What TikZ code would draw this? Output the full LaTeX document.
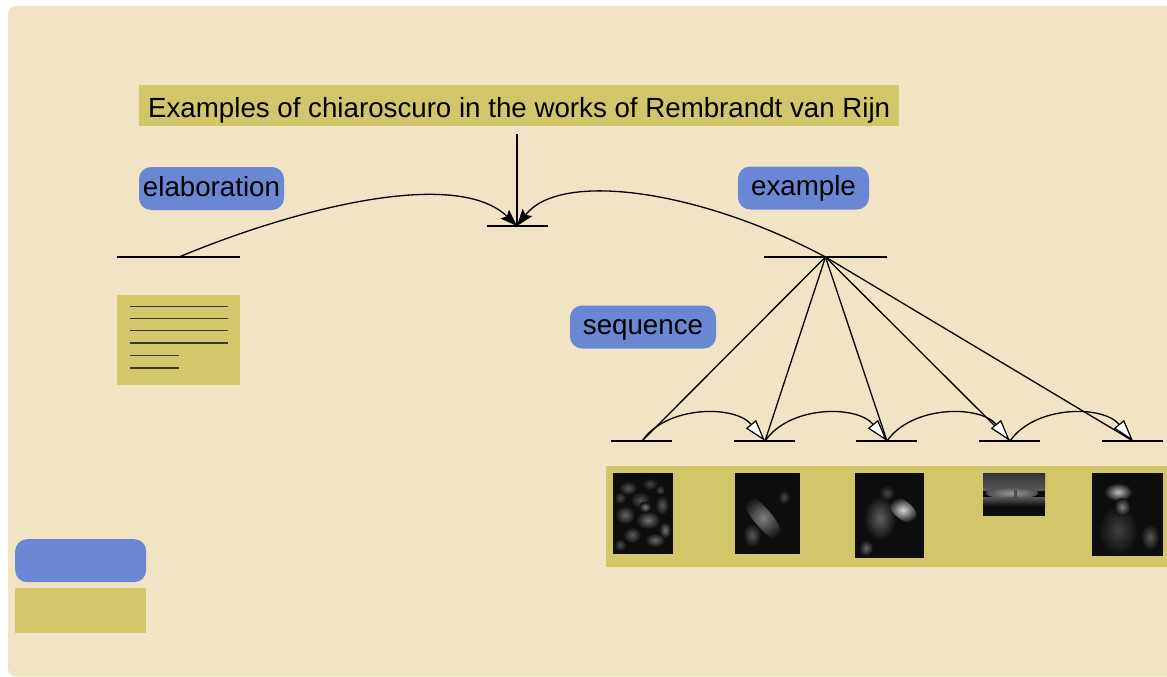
\documentclass[tikz,border=0pt]{standalone}
\usepackage{fontspec}
\setmainfont{Liberation Sans}
\usetikzlibrary{arrows.meta,calc}
\definecolor{bgbeige}{HTML}{F1E4C5}
\definecolor{olivebox}{HTML}{D1C76A}
\definecolor{relblue}{HTML}{6A87D3}
\definecolor{txtline}{HTML}{3A3826}
\newcommand{\labfont}{\fontsize{27.7}{33}\selectfont}
\tikzset{
  titlebox/.style={fill=olivebox, inner xsep=8pt, inner ysep=0pt, minimum height=41pt, minimum width=760pt, align=left, text height=23.6pt, text depth=0pt, font=\labfont},
  relbox/.style={fill=relblue, rounded corners=12pt, inner sep=0pt, minimum height=43pt, text height=20pt, text depth=5pt, font=\labfont},
  olivepanel/.style={fill=olivebox, inner sep=0pt},
  barline/.style={line width=1.4pt},
  conn/.style={line width=1.3pt},
  mainarrow/.style={-{Stealth[length=17pt,width=12pt,inset=3pt]}},
  seqarrow/.style={-{Triangle[open,length=22pt,width=13pt,fill=white,line width=1.2pt]}},
  textline/.style={line width=1.6pt, txtline},
  painting/.style={fill=black!95, inner sep=0pt, anchor=north west},
}
\begin{document}
\begin{tikzpicture}[x=1pt,y=-1pt]
\useasboundingbox (0,0) rectangle (1167,677);
\clip (0,0) rectangle (1167,677);
\fill[white] (0,0) rectangle (1167,677);
\fill[bgbeige, rounded corners=8pt] (8,6) rectangle (1190,676.5);

% title
\node[titlebox, anchor=west] (title) at (139,105.5) {Examples of chiaroscuro in the works of Rembrandt van Rijn\hfill};

% relation labels
\node[relbox, minimum width=145pt] (elab) at (211.5,188.5) {elaboration};
\node[relbox, minimum width=131pt] (exa) at (803.5,188) {example};
\node[relbox, minimum width=146pt] (seq) at (643,327) {sequence};

% anchor points of the bars
\coordinate (titlefoot) at (517,134);
\coordinate (top) at (517,226);
\coordinate (L) at (179,257);
\coordinate (R) at (825.5,257);
\coordinate (s1) at (642,441);
\coordinate (s2) at (765,441);
\coordinate (s3) at (887,441);
\coordinate (s4) at (1010,441);
\coordinate (s5) at (1133,441);

% bars
\draw[barline] ($(top)+(-30,0)$) -- ($(top)+(31,0)$);
\draw[barline] ($(L)+(-62,0)$) -- ($(L)+(61,0)$);
\draw[barline] ($(R)+(-61.5,0)$) -- ($(R)+(61.5,0)$);
\foreach \s in {s1,s2,s3,s4,s5}{
  \draw[barline] ($(\s)+(-31,0)$) -- ($(\s)+(30,0)$);
}

% connectors
\draw[conn] (titlefoot) -- (top);
\draw[conn, mainarrow] (L) .. controls +(120,-50) and +(-60,-58) .. (top);
\draw[conn, mainarrow] (R) .. controls +(-125.5,-67) and +(43,-56) .. (top);
\foreach \s in {s1,s2,s3,s4,s5}{
  \draw[conn] (R) -- (\s);
}
\draw[conn, seqarrow] (s1) .. controls +(25,-36) and +(-30,-36) .. (s2);
\draw[conn, seqarrow] (s2) .. controls +(25,-36) and +(-30,-36) .. (s3);
\draw[conn, seqarrow] (s3) .. controls +(25,-36) and +(-30,-36) .. (s4);
\draw[conn, seqarrow] (s4) .. controls +(25,-36) and +(-30,-36) .. (s5);

% text panel (left)
\node[olivepanel, anchor=north west, minimum width=123pt, minimum height=89.5pt] (txt) at (117,295) {};
\foreach \dy in {11.5,23.5,35.5,48}{
  \draw[textline] ($(txt.north west)+(13,\dy)$) -- +(98,0);
}
\foreach \dy in {60.5,73}{
  \draw[textline] ($(txt.north west)+(13,\dy)$) -- +(49,0);
}

% gallery panel
\node[olivepanel, anchor=north west, minimum width=620pt, minimum height=101pt] (gallery) at (606,466) {};

% painting 1
\node[painting, minimum width=60pt, minimum height=81pt] (p1) at (613,473) {};
\begin{scope}
\clip (613,473) rectangle (673,554);
\foreach \x/\y/\a/\b/\g in {628/488/9/7/35, 650/484/8/6/28, 640/500/10/8/32, 625/515/10/9/40, 648/520/12/9/45, 662/505/7/10/35, 632/535/9/8/38, 655/540/10/7/42, 665/530/6/8/45, 620/545/6/6/32, 645/507/6/5/50, 620/498/6/6/30, 660/490/5/5/30}{
  \shade[inner color=white!\g!black, outer color=black!95] (\x,\y) ellipse ({\a} and {\b});
}
\end{scope}

% painting 2
\node[painting, minimum width=65pt, minimum height=81pt] (p2) at (735,473) {};
\begin{scope}
\clip (735,473) rectangle (800,554);
\shade[inner color=white!50!black, outer color=black!95, rotate around={-50:(763,518)}] (763,518) ellipse (30 and 9);
\shade[inner color=white!35!black, outer color=black!95] (752,535) ellipse (9 and 12);
\shade[inner color=white!30!black, outer color=black!95] (784,497) ellipse (6 and 7);
\end{scope}

% painting 3
\node[painting, minimum width=69pt, minimum height=85pt] (p3) at (855,473) {};
\begin{scope}
\clip (855,473) rectangle (924,558);
\shade[inner color=white!38!black, outer color=black!95] (880,518) ellipse (16 and 22);
\shade[inner color=white!28!black, outer color=black!95] (887,493) ellipse (8 and 8);
\shade[inner color=white!85!black, outer color=black!95, rotate around={-40:(903,510)}] (903,510) ellipse (17 and 9);
\shade[inner color=white!40!black, outer color=black!95] (866,548) ellipse (7 and 8);
\end{scope}

% painting 4
\node[painting, minimum width=62pt, minimum height=43pt] (p4) at (983,473) {};
\begin{scope}
\clip (983,473) rectangle (1045,516);
\shade[top color=black!80, bottom color=white!35!black] (983,473) rectangle (1045,490);
\shade[inner color=white!60!black, outer color=white!30!black] (1012,493) ellipse (26 and 6);
\shade[top color=white!35!black, bottom color=black!95] (983,497) rectangle (1045,506);
\fill[black!95] (983,506) rectangle (1045,516);
\fill[white!30!black] (1014,490) rectangle (1017,500);
\end{scope}

% painting 5
\node[painting, minimum width=71pt, minimum height=83pt] (p5) at (1092,473) {};
\begin{scope}
\clip (1092,473) rectangle (1163,556);
\shade[inner color=white!25!black, outer color=black!95] (1118,530) ellipse (20 and 25);
\shade[inner color=white!75!black, outer color=black!95] (1118,492) ellipse (14 and 9);
\shade[inner color=white!50!black, outer color=black!95] (1122,507) ellipse (8 and 9);
\shade[inner color=white!35!black, outer color=black!95] (1150,537) ellipse (9 and 13);
\end{scope}

% legend (bottom left)
\node[relbox, anchor=north west, minimum width=131pt, minimum height=43pt] (legrel) at (15,539) {};
\node[olivepanel, anchor=north west, minimum width=131pt, minimum height=45pt] (legtxt) at (15,588) {};
\end{tikzpicture}
\end{document}
